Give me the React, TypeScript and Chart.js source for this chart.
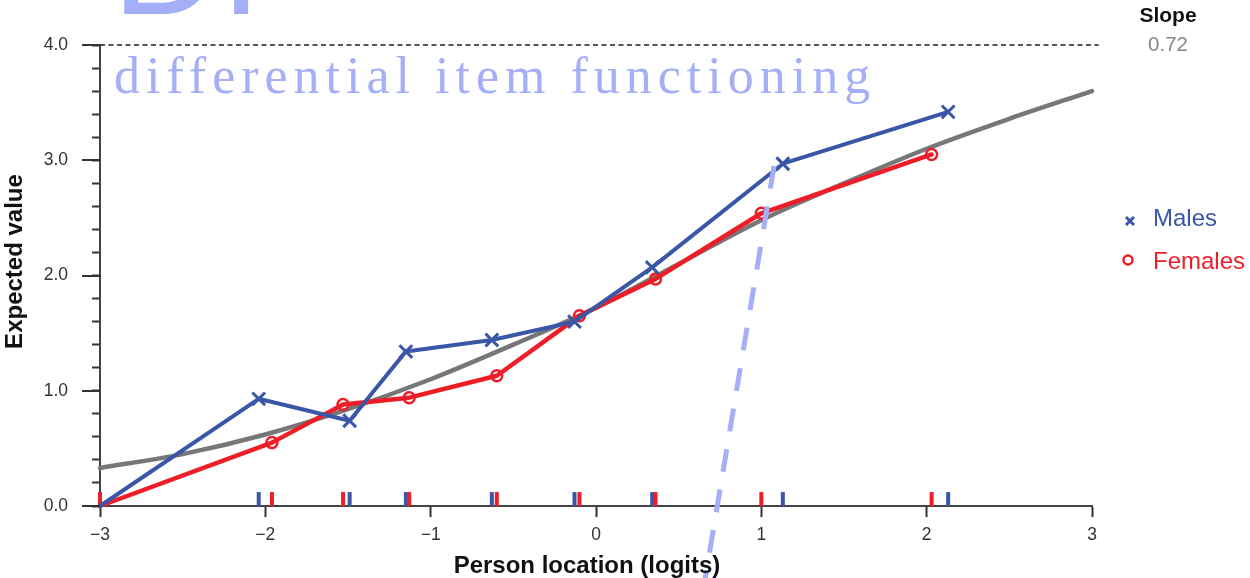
import React, { useEffect, useRef } from "react";
import { Chart, registerables } from "chart.js";

Chart.register(...registerables);

// ---------- data ----------
const X_TICKS = [-3, -2, -1, 0, 1, 2, 3];
const Y_TICKS = [0, 0.2, 0.4, 0.6, 0.8, 1.0, 1.2, 1.4, 1.6, 1.8, 2.0, 2.2, 2.4, 2.6, 2.8, 3.0, 3.2, 3.4, 3.6, 3.8, 4.0];
const Y_MAJOR = [0, 1, 2, 3, 4];

const MALES_X = [-3, -2.04, -1.49, -1.15, -0.63, -0.13, 0.34, 1.13, 2.13];
const MALES_Y = [0, 0.93, 0.74, 1.34, 1.44, 1.6, 2.07, 2.97, 3.42];
const FEMALES_X = [-3, -1.96, -1.53, -1.13, -0.6, -0.1, 0.36, 1.0, 2.03];
const FEMALES_Y = [0, 0.55, 0.88, 0.94, 1.13, 1.65, 1.97, 2.54, 3.05];

const ICC_X = [-3, -2.5, -2, -1.5, -1, -0.5, 0, 0.5, 1, 1.5, 2, 2.5, 3];
const ICC_Y = [0.33, 0.45, 0.62, 0.84, 1.1, 1.4, 1.72, 2.1, 2.48, 2.8, 3.1, 3.36, 3.6];

const MALES_RUG = [-2.04, -1.49, -1.15, -0.63, -0.13, 0.34, 1.13, 2.13];
const FEMALES_RUG = [-3, -1.96, -1.53, -1.13, -0.6, -0.1, 0.36, 1.0, 2.03];
const RUG_LEVEL = 0.06;

const REF_X = [-3, 3.04];
const REF_Y = [4, 4];

const OVERLAY_X = [1.077, 0.659];
const OVERLAY_Y = [2.95, -0.64];

const X_TITLE = "Person location (logits)";
const Y_TITLE = "Expected value";
const SLOPE = "0.72";

// ---------- styles ----------
const BLUE = "#3a56a6";
const RED = "#ee1d27";
const GRAY = "#777777";
const OVERLAY = "#a4aff7";
const SANS = "'Liberation Sans', Arial, Helvetica, sans-serif";
const SERIF = "'Liberation Serif', 'Times New Roman', serif";

const pts = (xs: number[], ys: number[]) => xs.map((x, i) => ({ x, y: ys[i] }));
const fmtX = (v: number) => (v < 0 ? "\u2212" + Math.abs(v) : String(v));

const axisExtras = {
  id: "axisExtras",
  afterDraw(chart: any) {
    const ys = chart.scales.y;
    const ctx = chart.ctx;
    const { left, right, top, bottom } = chart.chartArea;
    ctx.save();
    ctx.strokeStyle = "#333";
    ctx.lineWidth = 2;
    Y_MAJOR.forEach((v) => {
      const py = Math.round(ys.getPixelForValue(v));
      ctx.beginPath();
      ctx.moveTo(left - 18, py);
      ctx.lineTo(left, py);
      ctx.stroke();
    });
    // axis titles
    ctx.fillStyle = "#111";
    ctx.font = "bold 24px " + SANS;
    ctx.textAlign = "center";
    ctx.textBaseline = "middle";
    ctx.fillText(X_TITLE, (left + right) / 2 - 9, 566);
    ctx.translate(15, (top + bottom) / 2 - 14);
    ctx.rotate(-Math.PI / 2);
    ctx.fillText(Y_TITLE, 0, 0);
    ctx.restore();
  },
};

export default function App() {
  const ref = useRef<HTMLCanvasElement | null>(null);

  useEffect(() => {
    if (!ref.current) return;
    const chart = new Chart(ref.current, {
      type: "scatter",
      data: {
        datasets: [
          {
            label: "overlay",
            data: pts(OVERLAY_X, OVERLAY_Y),
            showLine: true,
            borderColor: OVERLAY,
            borderWidth: 5,
            borderDash: [23, 18],
            pointRadius: 0,
            clip: false,
            order: 0,
          } as any,
          {
            label: "Males",
            data: pts(MALES_X, MALES_Y),
            showLine: true,
            borderColor: BLUE,
            borderWidth: 4,
            borderJoinStyle: "round",
            borderCapStyle: "round",
            pointStyle: "crossRot",
            pointRadius: (c: any) => (c.dataIndex === 0 ? 0 : 9),
            pointBorderColor: BLUE,
            pointBackgroundColor: BLUE,
            pointBorderWidth: 3,
            clip: false,
            order: 1,
          },
          {
            label: "Females",
            data: pts(FEMALES_X, FEMALES_Y),
            showLine: true,
            borderColor: RED,
            borderWidth: 4.5,
            borderJoinStyle: "round",
            borderCapStyle: "round",
            pointStyle: "circle",
            pointRadius: (c: any) => (c.dataIndex === 0 ? 0 : 5.5),
            pointBorderColor: RED,
            pointBackgroundColor: "rgba(255,255,255,0)",
            pointBorderWidth: 2.5,
            clip: false,
            order: 2,
          },
          {
            label: "rugF",
            data: FEMALES_RUG.map((x) => ({ x, y: RUG_LEVEL })),
            showLine: false,
            pointStyle: "line",
            rotation: 90,
            pointRadius: 7,
            pointBorderColor: RED,
            pointBorderWidth: 4,
            clip: false,
            order: 3,
          },
          {
            label: "rugM",
            data: MALES_RUG.map((x) => ({ x, y: RUG_LEVEL })),
            showLine: false,
            pointStyle: "line",
            rotation: 90,
            pointRadius: 7,
            pointBorderColor: BLUE,
            pointBorderWidth: 4,
            clip: false,
            order: 4,
          },
          {
            label: "ICC",
            data: pts(ICC_X, ICC_Y),
            showLine: true,
            borderColor: GRAY,
            borderWidth: 4.5,
            cubicInterpolationMode: "monotone",
            borderCapStyle: "round",
            pointRadius: 0,
            clip: false,
            order: 5,
          },
          {
            label: "ref",
            data: pts(REF_X, REF_Y),
            showLine: true,
            borderColor: "#222",
            borderWidth: 1.5,
            borderDash: [5, 3.5],
            pointRadius: 0,
            clip: false,
            order: 6,
          },
        ],
      },
      options: {
        responsive: false,
        animation: false,
        layout: { padding: { left: 0, right: 158, top: 45, bottom: 0 } },
        plugins: { legend: { display: false }, tooltip: { enabled: false } },
        scales: {
          x: {
            type: "linear",
            min: -3,
            max: 3,
            afterBuildTicks: (s: any) => {
              s.ticks = X_TICKS.map((v) => ({ value: v }));
            },
            afterFit: (s: any) => {
              s.height = 72;
            },
            grid: { drawOnChartArea: false, drawTicks: true, tickLength: 11, tickColor: "#333", tickWidth: 2 },
            border: { display: true, color: "#444", width: 2 },
            ticks: {
              padding: 8,
              color: "#333",
              autoSkip: false,
              maxRotation: 0,
              font: { family: SANS, size: 17.5 },
              callback: (v: any) => fmtX(Number(v)),
            },
            title: { display: false },
          },
          y: {
            type: "linear",
            min: 0,
            max: 4,
            afterBuildTicks: (s: any) => {
              s.ticks = Y_TICKS.map((v) => ({ value: v }));
            },
            afterFit: (s: any) => {
              s.width = 100;
            },
            grid: { drawOnChartArea: false, drawTicks: true, tickLength: 8, tickColor: "#333", tickWidth: 2 },
            border: { display: true, color: "#444", width: 2 },
            ticks: {
              padding: 24,
              color: "#333",
              autoSkip: false,
              font: { family: SANS, size: 17.5 },
              callback: (v: any) => (Y_MAJOR.includes(Number(v)) ? Number(v).toFixed(1) : ""),
            },
            title: { display: false },
          },
        },
      } as any,
      plugins: [axisExtras],
    });
    return () => chart.destroy();
  }, []);

  return (
    <div style={{ position: "fixed", left: 0, top: 0, width: 1250, height: 578, overflow: "hidden", background: "#fff" }}>
      <canvas ref={ref} width={1250} height={578} style={{ position: "absolute", left: 0, top: 0, width: 1250, height: 578 }} />
      {/* large title, mostly above the view */}
      <div style={{ position: "absolute", left: 100, top: 0, width: 160, height: 30, overflow: "hidden" }}>
        <div style={{ position: "absolute", left: 12, top: -113, fontFamily: SANS, fontSize: 150, lineHeight: "150px", color: OVERLAY, whiteSpace: "nowrap" }}>DIF</div>
      </div>
      <div style={{ position: "absolute", left: 114, top: 49.5, fontFamily: SERIF, fontSize: 52, lineHeight: "52px", letterSpacing: 6, color: OVERLAY, whiteSpace: "nowrap" }}>
        differential item functioning
      </div>
      {/* slope */}
      <div style={{ position: "absolute", left: 1118, top: 4, width: 100, textAlign: "center", fontFamily: SANS, fontWeight: "bold", fontSize: 21, lineHeight: "21px", color: "#111" }}>Slope</div>
      <div style={{ position: "absolute", left: 1118, top: 33, width: 100, textAlign: "center", fontFamily: SANS, fontSize: 20.5, lineHeight: "21px", color: "#888" }}>{SLOPE}</div>
      {/* legend */}
      <svg style={{ position: "absolute", left: 1120, top: 210 }} width={20} height={60}>
        <line x1={6} y1={7} x2={14} y2={15} stroke={BLUE} strokeWidth={3} />
        <line x1={14} y1={7} x2={6} y2={15} stroke={BLUE} strokeWidth={3} />
        <circle cx={8} cy={50} r={4.5} fill="none" stroke={RED} strokeWidth={2.5} />
      </svg>
      <div style={{ position: "absolute", left: 1153, top: 205, fontFamily: SANS, fontSize: 24, lineHeight: "26px", color: BLUE }}>Males</div>
      <div style={{ position: "absolute", left: 1153, top: 248, fontFamily: SANS, fontSize: 24, lineHeight: "26px", color: RED }}>Females</div>
    </div>
  );
}
